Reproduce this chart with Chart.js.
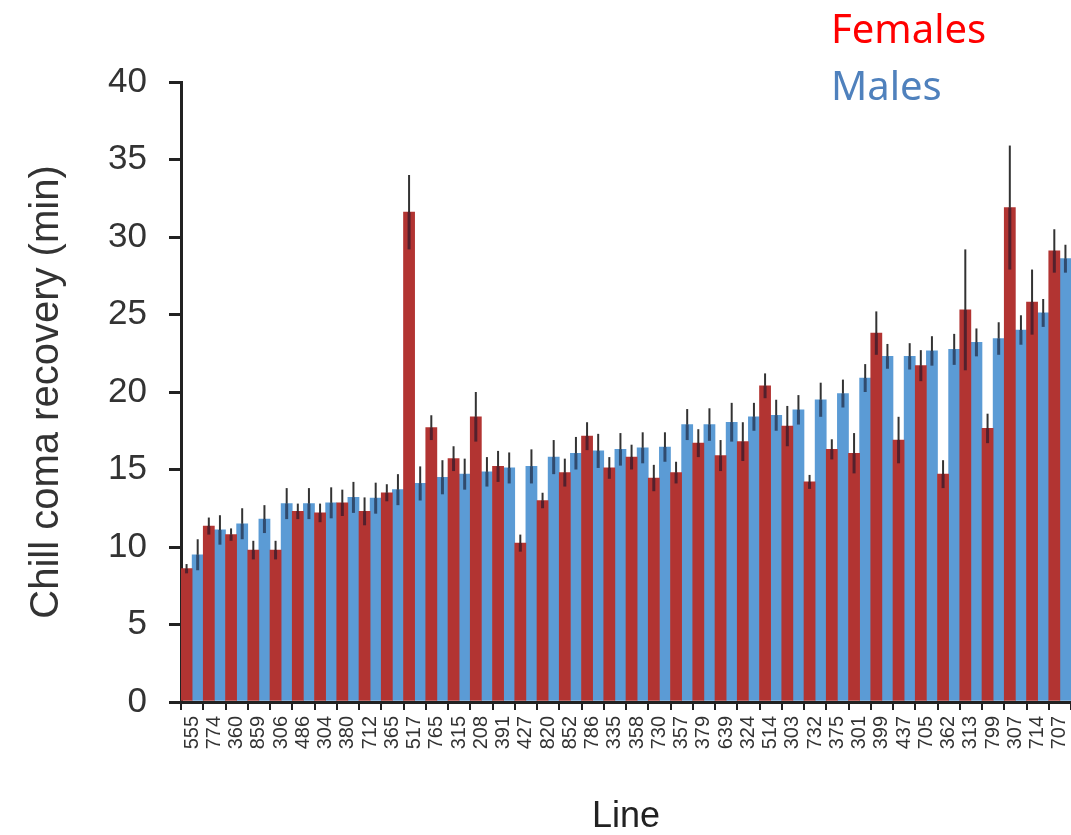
<!DOCTYPE html>
<html>
<head>
<meta charset="utf-8">
<title>Chill coma recovery</title>
<script src="https://cdn.jsdelivr.net/npm/chart.js@4.4.1/dist/chart.umd.min.js"></script>
<style>
  body { margin: 0; background: #fff; }
  #wrap { width: 1071px; height: 835px; }
</style>
</head>
<body>
<div id="wrap"><canvas id="chart" width="1071" height="835"></canvas></div>
<script>
// DGRP lines, sorted by male recovery time
const lines = ['555', '774', '360', '859', '306', '486', '304', '380', '712', '365',
    '517', '765', '315', '208', '391', '427', '820', '852', '786', '335',
    '358', '730', '357', '379', '639', '324', '514', '303', '732', '375',
    '301', '399', '437', '705', '362', '313', '799', '307', '714', '707'];

const females = [8.6, 11.35, 10.8, 9.8, 9.8, 12.3, 12.2, 12.85, 12.3, 13.5,
    31.6, 17.7, 15.7, 18.4, 15.2, 10.25, 13.0, 14.8, 17.15, 15.1,
    15.8, 14.45, 14.8, 16.7, 15.9, 16.8, 20.4, 17.8, 14.2, 16.3,
    16.05, 23.8, 16.9, 21.7, 14.7, 25.3, 17.65, 31.9, 25.8, 29.1];

const males = [9.5, 11.1, 11.5, 11.8, 12.8, 12.8, 12.85, 13.2, 13.15, 13.7,
    14.1, 14.5, 14.7, 14.85, 15.1, 15.2, 15.8, 16.05, 16.2, 16.3,
    16.4, 16.45, 17.9, 17.9, 18.05, 18.4, 18.5, 18.85, 19.5, 19.9,
    20.9, 22.3, 22.3, 22.65, 22.75, 23.2, 23.45, 24.0, 25.1, 28.6];

// standard errors
const femalesErr = [0.3, 0.55, 0.4, 0.6, 0.6, 0.5, 0.6, 0.85, 0.9, 0.55,
    2.4, 0.8, 0.8, 1.6, 1.0, 0.55, 0.5, 0.9, 0.9, 0.7,
    0.8, 0.85, 0.7, 0.9, 1.0, 1.25, 0.8, 1.3, 0.45, 0.65,
    1.3, 1.4, 1.5, 1.0, 0.9, 3.9, 0.95, 4.0, 2.1, 1.4];

const malesErr = [1.0, 0.95, 1.0, 0.9, 1.0, 1.0, 1.0, 1.0, 1.0, 1.0,
    1.1, 1.1, 1.0, 0.95, 1.0, 1.1, 1.1, 1.05, 1.1, 1.05,
    1.0, 0.95, 1.0, 1.05, 1.25, 0.9, 1.0, 0.95, 1.1, 0.9,
    0.9, 0.8, 0.85, 0.95, 1.0, 0.9, 1.05, 0.95, 0.9, 0.9];

const yTicks = [0, 5, 10, 15, 20, 25, 30, 35, 40];

const RED = 'rgb(178, 52, 50)';
const BLUE = 'rgb(91, 155, 213)';
const AXIS = '#222';

// Draw error bars on top of each bar
const errorBars = {
    id: 'errorBars',
    afterDatasetsDraw(chart) {
        const ctx = chart.ctx;
        const y = chart.scales.y;
        const errs = [femalesErr, malesErr];
        ctx.save();
        chart.data.datasets.forEach((ds, i) => {
            const meta = chart.getDatasetMeta(i);
            meta.data.forEach((bar, j) => {
                const v = ds.data[j];
                const e = errs[i][j];
                const top = y.getPixelForValue(v + e);
                const bottom = y.getPixelForValue(v - e);
                const mid = y.getPixelForValue(v);
                // lower half, seen through the bar
                ctx.strokeStyle = 'rgba(20, 20, 40, 0.6)';
                ctx.lineWidth = 3;
                ctx.beginPath();
                ctx.moveTo(bar.x, mid);
                ctx.lineTo(bar.x, bottom);
                ctx.stroke();
                // upper half
                ctx.strokeStyle = 'rgba(15, 15, 15, 0.85)';
                ctx.lineWidth = 2;
                ctx.beginPath();
                ctx.moveTo(bar.x, top);
                ctx.lineTo(bar.x, mid);
                ctx.stroke();
            });
        });
        ctx.restore();
    }
};

// Text legend at top right
const textLegend = {
    id: 'textLegend',
    afterDraw(chart) {
        const ctx = chart.ctx;
        ctx.save();
        ctx.font = '40px "Noto Sans", "Open Sans", sans-serif';
        ctx.textAlign = 'left';
        ctx.textBaseline = 'alphabetic';
        ctx.fillStyle = '#ff0000';
        ctx.fillText('Females', 831, 43);
        ctx.fillStyle = '#4f81bd';
        ctx.fillText('Males', 831, 100);
        ctx.restore();
    }
};

const ctx = document.getElementById('chart').getContext('2d');

new Chart(ctx, {
    type: 'bar',
    data: {
        labels: lines,
        datasets: [{
            label: 'Females',
            data: females,
            backgroundColor: RED,
            borderWidth: 0,
            categoryPercentage: 1.0,
            barPercentage: 1.0
        }, {
            label: 'Males',
            data: males,
            backgroundColor: BLUE,
            borderWidth: 0,
            categoryPercentage: 1.0,
            barPercentage: 1.0
        }]
    },
    options: {
        responsive: false,
        animation: false,
        layout: {
            padding: { top: 82, right: 0, bottom: 0, left: 0 }
        },
        plugins: {
            legend: { display: false },
            tooltip: { enabled: false }
        },
        scales: {
            x: {
                afterFit(scale) {
                    scale.height = 133;
                    scale.paddingLeft = 0;
                    scale.paddingRight = 0;
                },
                grid: {
                    offset: true,
                    drawOnChartArea: false,
                    drawTicks: true,
                    tickLength: 8,
                    color: AXIS,
                    lineWidth: 2
                },
                border: { display: true, color: AXIS, width: 3 },
                ticks: {
                    autoSkip: false,
                    minRotation: 90,
                    maxRotation: 90,
                    padding: 6,
                    color: '#333',
                    font: { family: '"Liberation Sans", Arial, sans-serif', size: 20 }
                },
                title: {
                    display: true,
                    text: 'Line',
                    color: '#222',
                    padding: 0,
                    font: { family: '"Liberation Sans", Arial, sans-serif', size: 36, lineHeight: 1 }
                }
            },
            y: {
                min: 0,
                max: 40,
                afterFit(scale) { scale.width = 181; },
                afterBuildTicks(scale) {
                    scale.ticks = yTicks.map(v => ({ value: v }));
                },
                grid: {
                    drawOnChartArea: false,
                    drawTicks: true,
                    tickLength: 12,
                    color: AXIS,
                    lineWidth: 3
                },
                border: { display: true, color: AXIS, width: 3 },
                ticks: {
                    padding: 22,
                    color: '#333',
                    font: { family: '"Liberation Sans", Arial, sans-serif', size: 35 }
                },
                title: {
                    display: true,
                    text: 'Chill coma recovery (min)',
                    color: '#333',
                    padding: { top: 27, bottom: 0 },
                    font: { family: '"Liberation Sans", Arial, sans-serif', size: 40, lineHeight: 1 }
                }
            }
        }
    },
    plugins: [errorBars, textLegend]
});
</script>
</body>
</html>
